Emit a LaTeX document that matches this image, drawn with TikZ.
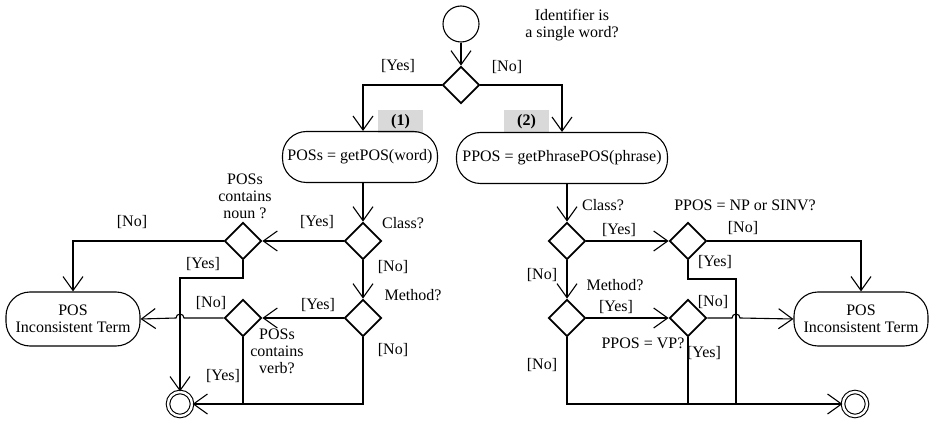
\documentclass[tikz,border=0pt]{standalone}
\usepackage{fontspec}
\setmainfont{Liberation Serif}
\usetikzlibrary{arrows.meta,shapes.geometric}
\begin{document}
\begin{tikzpicture}[x=1pt,y=-1pt,
  line width=1.1pt,
  every node/.style={font=\fontsize{16}{17}\selectfont},
  dec/.style={diamond,draw,line width=1.8pt,minimum width=37pt,minimum height=37pt,inner sep=0pt,aspect=1},
  act/.style={draw,rounded corners=24pt,minimum height=51pt,inner sep=0pt,align=center},
  lab/.style={inner sep=0pt,align=center},
  arr/.style={-{Straight Barb[length=14pt,width=20pt,line width=1.1pt]}},
  greylab/.style={fill=black!15,minimum width=45pt,minimum height=23pt,inner sep=0pt,font=\fontsize{16}{17}\selectfont\bfseries},
  initial/.style={circle,draw,minimum size=36pt,inner sep=0pt},
  final/.style={circle,draw,double,double distance=2.4pt,minimum size=24pt,inner sep=0pt}]
\useasboundingbox (0,0) rectangle (929,422);
% gray tags
\node[greylab] (g1) at (400.5,121.5) {(1)};
\node[greylab] (g2) at (526.5,121.5) {(2)};
% main nodes
\node[initial] (s) at (461,24) {};
\node[dec] (d0) at (461,85) {};
\node[act,minimum width=155pt] (b1) at (360,157) {POSs = getPOS(word)};
\node[act,minimum width=211pt] (b2) at (562,158) {PPOS = getPhrasePOS(phrase)};
% left part
\node[dec] (cL) at (363,241) {};
\node[dec] (nL) at (243,241) {};
\node[dec] (mL) at (363,318) {};
\node[dec] (vL) at (243,318) {};
\node[act,minimum width=134pt,minimum height=54pt] (pL) at (73,319) {POS\\Inconsistent Term};
\node[final] (eL) at (180,404) {};
% right part
\node[dec] (cR) at (567,241) {};
\node[dec] (npR) at (688,241) {};
\node[dec] (mR) at (567,318) {};
\node[dec] (vpR) at (688,318) {};
\node[act,minimum width=134pt,minimum height=54pt] (pR) at (861,319) {POS\\Inconsistent Term};
\node[final] (eR) at (855,404) {};
\coordinate (jL) at (180,278);
\coordinate (kR) at (736,279);
% connectors
\draw[arr] (s) -- (d0);
\draw[arr] (d0.west) -| (cL |- b1.north);
\draw[arr] (d0.east) -| (b2.north);
\draw[arr] (cL |- b1.south) -- (cL);
\draw[arr] (cR |- b2.south) -- (cR);
\draw[arr] (cL) -- (nL);
\draw[arr] (nL.west) -| (pL.north);
\draw[arr] (nL.south) |- (jL) -- (eL);
\draw[arr] (cL) -- (mL);
\draw[arr] (mL) -- (vL);
\draw[arr] (vL.west) -- ([xshift=4pt]jL |- vL.west) arc[start angle=0,end angle=180,radius=4pt] -- (pL.east);
\draw (vL.south) -- (vL |- eL);
\draw[arr] (mL.south) |- (eL.east);
\draw[arr] (cR) -- (npR);
\draw[arr] (npR.east) -| (pR.north);
\draw (npR.south) |- (kR) -- (kR |- eR);
\draw[arr] (cR) -- (mR);
\draw[arr] (mR) -- (vpR);
\draw[arr] (vpR.east) -- ([xshift=-4pt]kR |- vpR.east) arc[start angle=180,end angle=0,radius=4pt] -- (pR.west);
\draw (vpR.south) -- (vpR |- eR);
\draw[arr] (mR.south) |- (eR.west);
% texts
\node[lab] (t0) at (572,25) {Identifier is\\a single word?};
\node[lab] (y0) at (398,66) {[Yes]};
\node[lab] (n0) at (507,67) {[No]};
\node[lab] (t1) at (403,223) {Class?};
\node[lab] (t2) at (245,196) {POSs\\contains\\noun ?};
\node[lab] (y1) at (317,222) {[Yes]};
\node[lab] (n1) at (132,222) {[No]};
\node[lab] (y2) at (203,264) {[Yes]};
\node[lab] (n2) at (393,267) {[No]};
\node[lab] (t3) at (413,295) {Method?};
\node[lab] (y3) at (318,305) {[Yes]};
\node[lab] (n3) at (211,303) {[No]};
\node[lab] (t4) at (277,351) {POSs\\contains\\verb?};
\node[lab] (y4) at (223,376) {[Yes]};
\node[lab] (n4) at (393,350) {[No]};
\node[lab] (t5) at (603,205) {Class?};
\node[lab] (t6) at (745,205) {PPOS = NP or SINV?};
\node[lab] (y5) at (619,230) {[Yes]};
\node[lab] (n5) at (743,228) {[No]};
\node[lab] (y6) at (715,262) {[Yes]};
\node[lab] (n6) at (542,275) {[No]};
\node[lab] (t7) at (615,285) {Method?};
\node[lab] (y7) at (616,307) {[Yes]};
\node[lab] (n7) at (713,302) {[No]};
\node[lab] (t8) at (643,343) {PPOS = VP?};
\node[lab] (y8) at (704,353) {[Yes]};
\node[lab] (n8) at (542,365) {[No]};
\end{tikzpicture}
\end{document}
